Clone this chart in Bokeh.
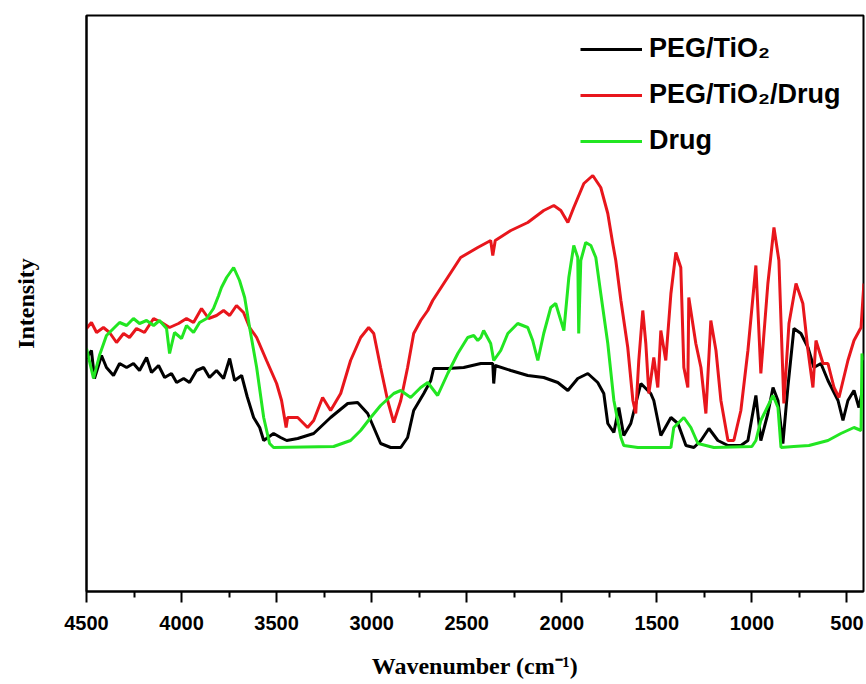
from bokeh.plotting import figure
from bokeh.models import Range1d, FixedTicker, Legend, LegendItem
from bokeh.embed import file_html
from bokeh.resources import INLINE

# ---- data (wavenumber in cm^-1, intensity in arbitrary units) ----
peg_wn = [4500, 4474, 4458, 4421, 4395, 4358, 4326, 4289, 4253, 4221, 4184, 4158, 4121, 4089, 4053,
          4026, 3989, 3958, 3921, 3884, 3853, 3816, 3779, 3747, 3721, 3684, 3655, 3621, 3589, 3568,
          3516, 3479, 3447, 3389, 3305, 3216, 3126, 3074, 3021, 2989,
          2953, 2900, 2847, 2811, 2779, 2726, 2689, 2674, 2600, 2516, 2426, 2363, 2358, 2350, 2268,
          2179, 2095, 2021, 1968, 1916, 1863, 1811, 1779, 1758, 1726, 1700, 1674, 1637, 1584, 1532,
          1516, 1479, 1426, 1389, 1347, 1305, 1268, 1226, 1179, 1126, 1058, 1021, 979, 953, 916,
          889, 863, 837, 811, 779, 742, 705, 674, 637, 600, 547, 521, 495, 463, 437, 416]
peg_int = [233, 241, 213, 236, 224, 216, 228, 224, 228, 221, 234, 219, 226, 214, 218,
           209, 213, 209, 221, 224, 214, 221, 213, 233, 211, 216, 195, 174, 164, 151,
           158, 154, 151, 153, 158, 174, 188, 189, 178, 164,
           148, 144, 144, 154, 181, 198, 211, 223, 223, 224, 228, 228, 208, 226, 221,
           216, 214, 209, 201, 213, 218, 209, 198, 168, 159, 184, 156, 168, 208, 198,
           191, 156, 174, 168, 146, 144, 151, 163, 151, 146, 146, 151, 196, 151, 178,
           204, 191, 148, 204, 263, 258, 244, 224, 228, 211, 191, 171, 191, 201, 184, 204]

drug_wn = [4500, 4463, 4432, 4395, 4358, 4326, 4289, 4253, 4221, 4184, 4147, 4116, 4079, 4063, 4037,
           4000, 3974, 3937, 3905, 3868, 3832, 3805, 3790, 3763,
           3726, 3695, 3668, 3642, 3605, 3568, 3537, 3516, 3200, 3111, 3058, 3005, 2953, 2884, 2847,
           2795, 2742, 2705, 2653, 2600, 2547, 2495, 2463, 2442, 2426, 2411, 2374, 2358, 2321, 2284,
           2232, 2179, 2153, 2126, 2095, 2058, 2032, 2005, 1989, 1963, 1937, 1916, 1911, 1900, 1874,
           1847, 1821, 1795, 1758, 1726, 1689, 1674, 1600, 1426, 1411, 1358, 1321, 1284, 1200, 1000,
           979, 953, 889, 863, 847, 780, 700, 600, 532, 463, 426, 421, 416]
drug_int = [243, 213, 236, 256, 263, 269, 266, 273, 268, 271, 266, 271, 263, 238, 259,
            253, 266, 259, 269, 273, 283, 296, 304, 314,
            324, 311, 294, 264, 224, 174, 148, 144, 145, 151, 161, 174, 186, 198, 201,
            194, 204, 209, 196, 218, 238, 254, 256, 251, 254, 261, 248, 231, 241, 258,
            268, 264, 251, 231, 258, 284, 288, 271, 261, 314, 346, 334, 258, 331, 349,
            346, 334, 298, 248, 191, 154, 146, 144, 144, 164, 174, 164, 148, 144, 145,
            151, 171, 196, 184, 144, 145, 146, 151, 158, 164, 161, 238, 231]

pegd_wn = [4500, 4474, 4447, 4411, 4379, 4342, 4305, 4274, 4237, 4195, 4147, 4105, 4063, 4016, 3974,
           3937, 3895, 3858, 3816, 3779, 3747, 3711, 3674,
           3642, 3605, 3553, 3500, 3474, 3465, 3450, 3442, 3389, 3337, 3305, 3258, 3216, 3163, 3111,
           3058, 3016, 2989, 2953, 2916, 2884, 2847, 2811, 2779, 2742, 2705, 2679, 2532, 2442, 2374,
           2363, 2350, 2268, 2179, 2095, 2042, 2005, 1968, 1937, 1884, 1837, 1795, 1758, 1732, 1716,
           1689, 1653, 1626, 1611, 1595, 1574, 1558, 1542, 1516, 1495, 1479, 1453, 1426, 1400, 1374,
           1358, 1337, 1332, 1295, 1268, 1242, 1216, 1189, 1163, 1126, 1095, 1058, 1021, 979, 953,
           916, 884, 858, 832, 805, 768, 732, 705, 679, 663, 626, 600, 568, 542, 495,
           463, 426, 411]
pegd_int = [263, 269, 259, 264, 259, 249, 258, 254, 263, 259, 273, 269, 264, 268, 273,
            269, 283, 273, 276, 281, 276, 286, 279,
            264, 254, 231, 208, 191, 181, 164, 174, 174, 164, 171, 194, 181, 198, 231,
            254, 264, 258, 224, 191, 169, 191, 224, 258, 271, 281, 291, 334, 344, 351,
            336, 351, 361, 369, 381, 386, 381, 369, 384, 408, 416, 404, 378, 348, 331,
            291, 244, 191, 178, 231, 281, 248, 198, 234, 204, 261, 231, 298, 339, 324,
            224, 204, 294, 248, 224, 178, 271, 241, 191, 151, 151, 181, 241, 326, 218,
            308, 364, 331, 188, 268, 308, 288, 241, 204, 251, 228, 228, 204, 194, 231,
            251, 264, 308]

x_ticks = [4500, 4000, 3500, 3000, 2500, 2000, 1500, 1000, 500]
x_minor = [4250, 3750, 3250, 2750, 2250, 1750, 1250, 750]

p = figure(frame_width=777, frame_height=576, output_backend="svg", toolbar_location=None,
           x_range=Range1d(4500, 413), y_range=Range1d(0, 576),
           min_border_left=86, min_border_right=3, min_border_top=15, min_border_bottom=93)

p.xgrid.visible = False
p.ygrid.visible = False
p.outline_line_color = "black"
p.outline_line_width = 2
p.outline_line_alpha = 1

xa = p.xaxis[0]
xa.ticker = FixedTicker(ticks=x_ticks, minor_ticks=x_minor)
xa.axis_line_width = 2
xa.major_tick_line_width = 2
xa.minor_tick_line_width = 2
xa.major_tick_in = 0
xa.major_tick_out = 11
xa.minor_tick_in = 0
xa.minor_tick_out = 6
xa.major_label_standoff = 13
xa.major_label_text_font = "Liberation Sans"
xa.major_label_text_font_style = "bold"
xa.major_label_text_font_size = "20px"
xa.major_label_text_color = "black"
xa.axis_label = "Wavenumber (cm\u207b\u00b9)"
xa.axis_label_text_font = "Liberation Serif"
xa.axis_label_text_font_style = "bold"
xa.axis_label_text_font_size = "24px"
xa.axis_label_standoff = 20
xa.axis_label_text_color = "black"

ya = p.yaxis[0]
ya.ticker = FixedTicker(ticks=[])
ya.axis_line_width = 2
ya.major_tick_out = 0
ya.major_tick_in = 0
ya.minor_tick_out = 0
ya.minor_tick_in = 0
ya.major_label_text_font_size = "0px"
ya.major_label_standoff = 0
ya.axis_label = "Intensity"
ya.axis_label_text_font = "Liberation Serif"
ya.axis_label_text_font_style = "bold"
ya.axis_label_text_font_size = "24px"
ya.axis_label_standoff = 48
ya.axis_label_text_color = "black"

r1 = p.line(peg_wn, peg_int, line_color="black", line_width=3)
r2 = p.line(pegd_wn, pegd_int, line_color="#e8161c", line_width=3)
r3 = p.line(drug_wn, drug_int, line_color="#22e622", line_width=3)

legend = Legend(items=[LegendItem(label="PEG/TiO\u2082", renderers=[r1]),
                       LegendItem(label="PEG/TiO\u2082/Drug", renderers=[r2]),
                       LegendItem(label="Drug", renderers=[r3])],
                location=(494, 435))
legend.border_line_color = None
legend.background_fill_alpha = 0
legend.padding = 0
legend.margin = 0
legend.spacing = 15
legend.glyph_width = 62
legend.glyph_height = 20
legend.label_standoff = 7
legend.label_text_font = "Liberation Sans"
legend.label_text_font_style = "bold"
legend.label_text_font_size = "27px"
legend.label_text_color = "black"
p.add_layout(legend)

open("out.html", "w").write(file_html(p, INLINE))
